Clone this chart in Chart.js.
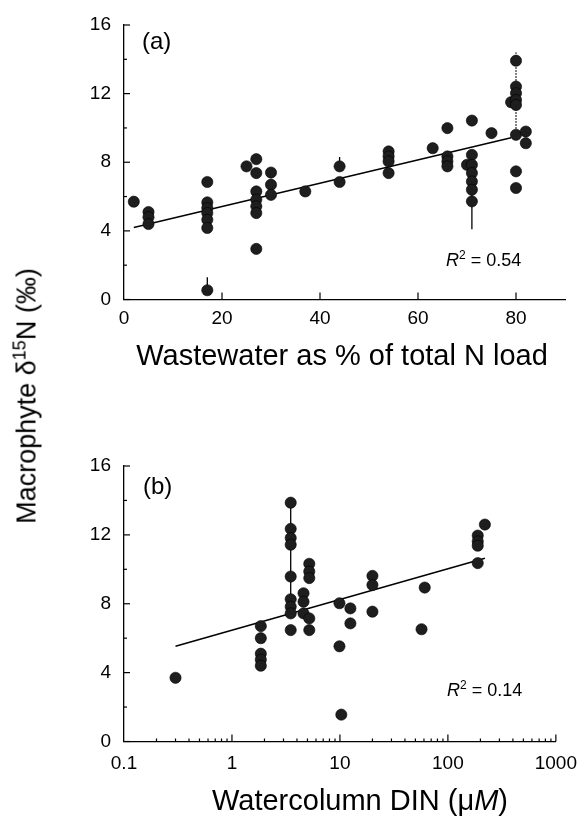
<!DOCTYPE html>
<html>
<head>
<meta charset="utf-8">
<script src="https://cdn.jsdelivr.net/npm/chart.js@4.4.1/dist/chart.umd.min.js"></script>
<style>
  html, body { margin: 0; padding: 0; background: #fff; }
  body { width: 588px; height: 827px; position: relative; overflow: hidden; font-family: "Liberation Sans", Arial, sans-serif; }
  #ca { position: absolute; left: 0; top: 0; }
  #cb { position: absolute; left: 0; top: 420px; }
  .lbl { position: absolute; color: #000; white-space: nowrap; line-height: 1; }
  #ytitle { left: 27px; top: 396px; transform: translate(-50%, -50%) rotate(-90deg); font-size: 27px; }
  #ytitle sup { font-size: 18px; vertical-align: 0; position: relative; top: -10px; }
  .xt { font-size: 29px; transform: translate(-50%, -50%); }
  .xt i { font-style: italic; }
  .panel { font-size: 24px; }
  .r2 { font-size: 18px; }
  .r2 i { font-style: italic; }
  .r2 sup { font-size: 12px; vertical-align: 0; position: relative; top: -7px; }
</style>
</head>
<body>
<canvas id="ca" width="588" height="390"></canvas>
<canvas id="cb" width="588" height="407"></canvas>
<div class="lbl" id="ytitle">Macrophyte δ<sup>15</sup>N (‰)</div>
<div class="lbl xt" style="left:342px; top:355px;">Wastewater as % of total N load</div>
<div class="lbl xt" style="left:360px; top:800px;">Watercolumn DIN (μ<i>M</i>)</div>
<div class="lbl panel" style="left:142px; top:29px;">(a)</div>
<div class="lbl panel" style="left:143px; top:474px;">(b)</div>
<div class="lbl r2" style="left:446px; top:251px;"><i>R</i><sup>2</sup> = 0.54</div>
<div class="lbl r2" style="left:447px; top:681px;"><i>R</i><sup>2</sup> = 0.14</div>
<script>
// ---------- Panel (a): wastewater % vs d15N ----------
const aX = [2, 5,5,5, 17,17,17,17,17,17,17, 25, 27,27,27,27,27,27,27, 30,30,30, 37, 44,44,
            54,54,54,54, 63, 66,66,66,66, 70, 71,71,71,71,71,71,71, 75, 79,
            80,80,80,80,80,80,80,80, 82,82];
const aY = [5.7, 5.1,4.8,4.4, 6.85,5.66,5.33,5.04,4.65,4.17,0.54, 7.76, 8.18,7.37,6.30,5.82,5.43,5.04,2.95,
            7.4,6.69,6.1, 6.3, 7.76,6.85, 8.63,8.34,8.05,7.37, 8.82, 9.99,8.34,8.05,7.76, 7.85,
            10.43,8.43,7.85,7.37,6.88,6.40,5.72, 9.70, 11.5,
            13.92,12.41,12.02,11.63,11.34,9.6,7.47,6.5, 9.79,9.11];
const aFitX = [2, 79];
const aFitY = [4.2, 9.43];
const aErrX  = [17, 44, 71, 80];
const aErrLo = [0.54, 7.76, 4.1, 9.6];
const aErrHi = [1.3, 8.3, 8.43, 14.4];
const aXTicks = [0, 20, 40, 60, 80];
const yTicks = [0, 4, 8, 12, 16];
const yMinor = [2, 6, 10, 14];

// ---------- Panel (b): water column DIN vs d15N ----------
const bX = [0.3, 1.85,1.85,1.85,1.85,1.85, 3.5,3.5,3.5,3.5,3.5,3.5,3.5,3.5,3.5,
            4.6,4.6,4.6, 5.2,5.2,5.2,5.2,5.2, 9.9,9.9, 10.3, 12.5,12.5, 20,20,20,
            57, 61, 189,189,189,189, 220];
const bY = [3.7, 6.7,6.0,5.1,4.75,4.4, 13.87,12.35,11.82,11.43,9.58,8.26,7.83,7.44,6.47,
            8.61,8.12,7.44, 10.32,9.87,9.49,7.15,6.47, 8.03,5.53, 1.56, 7.73,6.86, 9.62,9.09,7.54,
            6.52, 8.94, 11.96,11.62,11.37,10.36, 12.6];
const bFitX = [0.3, 220];
const bFitY = [5.53, 10.64];
const bErrX  = [3.5];
const bErrLo = [7.44];
const bErrHi = [13.87];
const bXTicks = [0.1, 1, 10, 100, 1000];

const FONT = '"Liberation Sans", Arial, sans-serif';

function pts(xs, ys) { return xs.map((x, i) => ({x: x, y: ys[i]})); }

const insideTicks = {
  id: 'insideTicks',
  afterDatasetsDraw(chart, args, o) {
    const ctx = chart.ctx, xs = chart.scales.x, ys = chart.scales.y, ca = chart.chartArea;
    ctx.save();
    ctx.strokeStyle = '#000';
    ctx.lineWidth = 1.2;
    const seg = (x1, y1, x2, y2) => { ctx.beginPath(); ctx.moveTo(x1, y1); ctx.lineTo(x2, y2); ctx.stroke(); };
    (o.yMajor || []).forEach(v => { const p = ys.getPixelForValue(v); seg(ca.left, p, ca.left + 6, p); });
    (o.yMinor || []).forEach(v => { const p = ys.getPixelForValue(v); seg(ca.left, p, ca.left + 3, p); });
    (o.xMajor || []).forEach(v => { const p = xs.getPixelForValue(v); seg(p, ca.bottom, p, ca.bottom - 7); });
    (o.xMinor || []).forEach(v => { const p = xs.getPixelForValue(v); seg(p, ca.bottom, p, ca.bottom - 3); });
    ctx.restore();
  }
};

function errSets(ex, lo, hi, dottedX) {
  return ex.map((x, i) => ({
    type: 'scatter', data: [{x: x, y: lo[i]}, {x: x, y: hi[i]}],
    showLine: true, pointRadius: 0, borderColor: '#000', borderWidth: 1.3,
    borderDash: x === dottedX ? [1.5, 1.5] : [], order: 5
  }));
}

function makeChart(id, cfg) {
  return new Chart(document.getElementById(id), {
    type: 'scatter',
    data: {
      datasets: [
        { data: pts(cfg.x, cfg.y), pointRadius: 5.6, pointHoverRadius: 5.6,
          backgroundColor: '#1e1e1e', borderColor: '#000', borderWidth: 0.6, order: 0 },
        { data: pts(cfg.fx, cfg.fy), showLine: true, pointRadius: 0,
          borderColor: '#000', borderWidth: 1.5, order: 3 },
        ...errSets(cfg.ex, cfg.elo, cfg.ehi, cfg.dotted)
      ]
    },
    options: {
      responsive: false, animation: false, devicePixelRatio: 1,
      layout: { padding: { top: cfg.padTop, right: 23, left: 0, bottom: 0 } },
      plugins: {
        legend: { display: false }, tooltip: { enabled: false },
        insideTicks: { yMajor: yTicks, yMinor: yMinor, xMajor: cfg.xMajor, xMinor: cfg.xMinor }
      },
      scales: {
        x: {
          type: cfg.xType, min: cfg.xMin, max: cfg.xMax,
          grid: { display: false, drawTicks: false },
          border: { display: true, color: '#000', width: 1.3 },
          afterFit: s => { s.height = cfg.xH; },
          afterBuildTicks: s => { s.ticks = cfg.xTickVals.map(v => ({value: v})); },
          ticks: { autoSkip: false, maxRotation: 0, padding: cfg.xPad, color: '#000',
                   font: { family: FONT, size: 19 },
                   callback: v => String(v) }
        },
        y: {
          min: 0, max: 16,
          grid: { display: false, drawTicks: false },
          border: { display: true, color: '#000', width: 1.3 },
          afterFit: s => { s.width = 124; },
          afterBuildTicks: s => { s.ticks = yTicks.map(v => ({value: v})); },
          ticks: { padding: 13, color: '#000', font: { family: FONT, size: 19 } }
        }
      }
    },
    plugins: [insideTicks]
  });
}

const logMinor = [];
[0.1, 1, 10, 100].forEach(d => { for (let k = 2; k <= 9; k++) logMinor.push(d * k); });

makeChart('ca', {
  x: aX, y: aY, fx: aFitX, fy: aFitY, ex: aErrX, elo: aErrLo, ehi: aErrHi, dotted: 80,
  padTop: 25, xType: 'linear', xMin: 0, xMax: 90, xTickVals: aXTicks,
  xMajor: aXTicks.slice(1), xMinor: [],
  xH: 90.5, xPad: 8
});

makeChart('cb', {
  x: bX, y: bY, fx: bFitX, fy: bFitY, ex: bErrX, elo: bErrLo, ehi: bErrHi, dotted: null,
  padTop: 46, xType: 'logarithmic', xMin: 0.1, xMax: 1000, xTickVals: bXTicks,
  xMajor: bXTicks.slice(1), xMinor: logMinor,
  xH: 85.5, xPad: 11
});
</script>
</body>
</html>
